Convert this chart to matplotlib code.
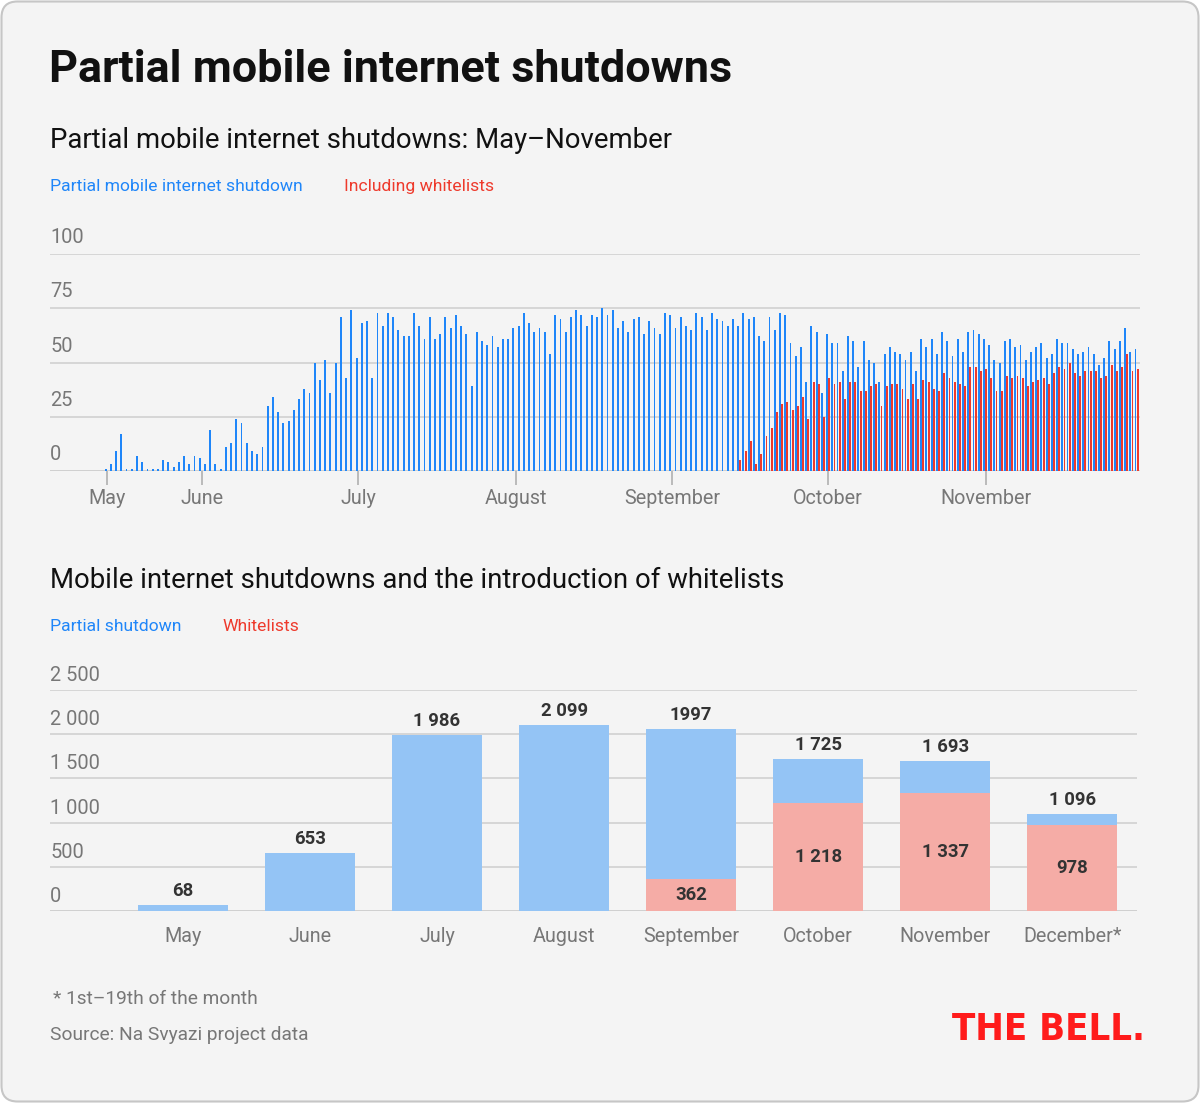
import matplotlib
matplotlib.use('Agg')
import matplotlib.pyplot as plt
from matplotlib.patches import FancyBboxPatch
from matplotlib.transforms import offset_copy
import numpy as np

# ---------------- DATA ----------------
# Top chart: daily number of regions with partial mobile internet shutdowns
daily_partial = [
    1, 3, 9, 17, 1, 1, 7, 4, 1, 1, 1, 5, 4, 2, 4, 7, 3, 7, 6, 3, 19, 3, 1, 11, 13, 24,
    22, 13, 9, 8, 11, 30, 34, 27, 22, 23, 28, 33, 38, 36, 50, 42, 51, 36, 50, 71, 43,
    74, 52, 68, 69, 43, 73, 67, 73, 71, 65,
    62, 62, 73, 67, 61, 71, 61, 63, 71, 66, 72, 67, 63, 39, 64, 60, 58, 62, 57, 61, 61,
    66, 67, 73, 68, 64, 66, 64, 54, 72, 70, 64,
    71, 74, 72, 67, 72, 71, 75, 72, 74, 66, 69, 64, 70, 71, 63, 69, 66, 63, 73, 72, 66,
    71, 67, 65, 73, 71, 65, 73, 70, 69, 67, 70,
    67, 73, 70, 71, 62, 60, 71, 65, 73, 72, 59, 53, 57, 41, 67, 64, 36, 63, 59, 59, 46,
    62, 60, 48, 60, 51, 50, 41, 54, 57, 55, 54, 51,
    55, 46, 61, 57, 61, 54, 64, 60, 53, 61, 55, 64, 65, 63, 61, 58, 51, 50, 60, 61, 57,
    58, 51, 55, 57, 59, 52, 54, 61, 59, 59, 56,
    54, 55, 57, 54, 49, 52, 60, 56, 60, 66, 55, 56,
]
# Days with whitelists (series starts later; aligned to the end of daily_partial)
daily_whitelist = [
    5, 9, 14, 3, 8, 16, 20, 27, 31, 32, 28, 30, 34, 24, 41, 40, 25, 43, 40, 41, 33,
    41, 41, 37, 37, 39, 40, 30, 39, 40, 40, 38, 33,
    40, 33, 42, 41, 38, 37, 45, 43, 41, 40, 39, 48, 48, 46, 47, 43, 37, 37, 44, 43, 44,
    43, 39, 41, 42, 43, 40, 45, 48, 47, 50, 45,
    44, 46, 46, 46, 43, 44, 49, 46, 48, 54, 46, 47,
]
top_month_labels = ['May', 'June', 'July', 'August', 'September', 'October', 'November']
top_yticks = [0, 25, 50, 75, 100]

# Bottom chart: monthly totals (bar heights as drawn; September's bar is drawn taller than its label)
months = ['May', 'June', 'July', 'August', 'September', 'October', 'November', 'December*']
partial_total = [68, 653, 1986, 2099, 2059, 1725, 1693, 1096]
whitelists = [0, 0, 0, 0, 362, 1218, 1337, 978]
partial_total_labels = ['68', '653', '1 986', '2 099', '1997', '1 725', '1 693', '1 096']
whitelist_labels = ['', '', '', '', '362', '1 218', '1 337', '978']
bottom_yticks = [0, 500, 1000, 1500, 2000, 2500]

# ---------------- STYLE ----------------
W, H, DPI = 1200, 1103, 100
def pt(px):
    return px * 72.0 / DPI

FONT = 'Roboto'
BLUE = '#1F86F9'
RED = '#EE3A2C'
LBLUE = '#94C4F5'
LRED = '#F5ACA6'
GRID = '#D6D6D6'
GREY = '#777777'
BG = '#F4F4F4'

plt.rcParams['font.family'] = [FONT, 'DejaVu Sans']

fig = plt.figure(figsize=(W / DPI, H / DPI), dpi=DPI)
fig.patch.set_facecolor('white')

# background axes in pixel coordinates (y downward)
bgax = fig.add_axes([0, 0, 1, 1], zorder=0)
bgax.set_xlim(0, W)
bgax.set_ylim(H, 0)
bgax.axis('off')
bgax.add_patch(FancyBboxPatch((1.5, 1.5), W - 3, H - 3,
                              boxstyle='round,pad=0,rounding_size=16',
                              facecolor=BG, edgecolor='#C6C6C6', linewidth=1.5))

def ftext(x, y, s, size, **kw):
    bgax.text(x, y, s, fontsize=pt(size), **kw)

ftext(49, 82, 'Partial mobile internet shutdowns', 45, fontweight='bold',
      color='#111111', va='baseline')
ftext(50, 148, 'Partial mobile internet shutdowns: May\u2013November', 27.5,
      fontweight='normal', color='#111111', va='baseline')
ftext(50, 191, 'Partial mobile internet shutdown', 17.5, color=BLUE, va='baseline')
ftext(344, 191, 'Including whitelists', 17.5, color=RED, va='baseline')

ftext(50, 588, 'Mobile internet shutdowns and the introduction of whitelists', 27.5,
      fontweight='normal', color='#111111', va='baseline')
ftext(50, 631, 'Partial shutdown', 17.5, color=BLUE, va='baseline')
ftext(222, 631, 'Whitelists', 17.5, color=RED, va='baseline')

ftext(53, 1004, '* 1st\u201319th of the month', 19.2, color=GREY, va='baseline')
ftext(50, 1040, 'Source: Na Svyazi project data', 19.2, color=GREY, va='baseline')
bgax.text(1145, 1040, 'THE BELL.', fontsize=pt(38), color='#FF1B1B',
          fontfamily='DejaVu Sans', fontstretch='condensed', fontweight='bold',
          ha='right', va='baseline')

# ---------------- TOP CHART ----------------
L, R = 50, 1140
top_base, top_top = 471, 254
ax1 = fig.add_axes([L / W, (H - top_base) / H, (R - L) / W, (top_base - top_top) / H],
                   zorder=2)
ax1.patch.set_alpha(0)
n = len(daily_partial)
days = np.arange(n)
wl_days = days[n - len(daily_whitelist):]
bw = 0.36
ax1.bar(days - 0.21, daily_partial, width=bw, color=BLUE, linewidth=0, zorder=3)
ax1.bar(wl_days + 0.21, daily_whitelist, width=bw, color=RED, linewidth=0, zorder=3)
ax1.set_xlim(-10.85, 197.65)
ax1.set_ylim(0, 100)
for s in ax1.spines.values():
    s.set_visible(False)
ax1.set_yticks([])
for v in top_yticks:
    ax1.axhline(v, color='#CFCFCF' if v == 0 else GRID, lw=1.4, zorder=1)
    ax1.text(0, v, str(v), transform=offset_copy(ax1.get_yaxis_transform(), fig=fig,
                                                   y=11, units='dots'),
             fontsize=pt(20), color=GREY, ha='left', va='baseline')
top_tick_pos = [0, 18.2, 48.1, 78.2, 108.2, 138.0, 168.1]
ax1.set_xticks(top_tick_pos)
ax1.set_xticklabels(top_month_labels)
ax1.tick_params(axis='x', length=pt(14), width=1.2, color='#B0B0B0', pad=pt(3.5),
                labelsize=pt(19.8), labelcolor=GREY)

# ---------------- BOTTOM CHART ----------------
R2 = 1137
bot_base, bot_top = 911, 690
ax2 = fig.add_axes([L / W, (H - bot_base) / H, (R2 - L) / W, (bot_base - bot_top) / H],
                   zorder=2)
ax2.patch.set_alpha(0)
x = np.arange(len(months))
ax2.bar(x, partial_total, width=0.71, color=LBLUE, linewidth=0, zorder=3)
ax2.bar(x, whitelists, width=0.71, color=LRED, linewidth=0, zorder=4)
ax2.set_xlim(-1.047, 7.51)
ax2.set_ylim(0, 2500)
for s in ax2.spines.values():
    s.set_visible(False)
ax2.set_yticks([])
for v in bottom_yticks:
    ax2.axhline(v, color='#CFCFCF' if v == 0 else GRID, lw=1.4, zorder=1)
    ax2.text(0, v, f'{v:,}'.replace(',', ' '),
             transform=offset_copy(ax2.get_yaxis_transform(), fig=fig, y=9, units='dots'),
             fontsize=pt(20), color=GREY, ha='left', va='baseline')
ax2.set_xticks(x)
ax2.set_xticklabels(months)
ax2.tick_params(axis='x', length=0, pad=pt(16.5), labelsize=pt(19.8), labelcolor=GREY)

above = offset_copy(ax2.transData, fig=fig, y=9, units='dots')
for xi, val, lab in zip(x, partial_total, partial_total_labels):
    ax2.text(xi, val, lab, transform=above, ha='center', va='baseline',
             fontsize=pt(18.5), fontweight='bold', color='#333333', zorder=5)
for xi, val, lab in zip(x, whitelists, whitelist_labels):
    if lab:
        ax2.text(xi, val / 2, lab, ha='center', va='center',
                 fontsize=pt(18.5), fontweight='bold', color='#333333', zorder=5)

fig.savefig('out.png', dpi=DPI, facecolor='white')
